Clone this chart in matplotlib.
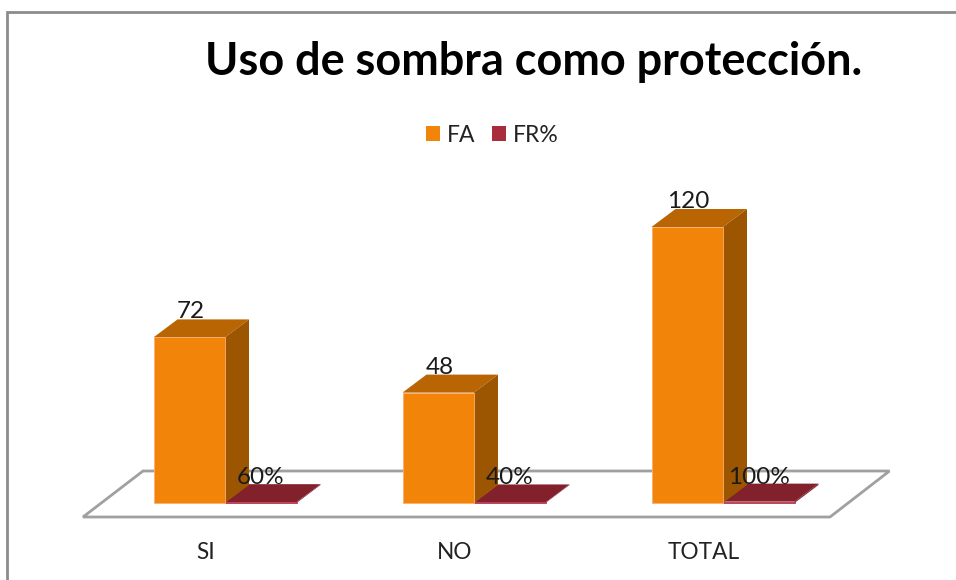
import matplotlib
matplotlib.use("Agg")
import matplotlib.pyplot as plt
from matplotlib.patches import Polygon

categories = ["SI", "NO", "TOTAL"]
fa_values = [72, 48, 120]
fr_values = [60, 40, 100]
fr_labels = ["60%", "40%", "100%"]

plt.rcParams['font.family'] = ['Lato', 'DejaVu Sans']

W, H = 956, 580
fig = plt.figure(figsize=(W / 100, H / 100), dpi=100, facecolor="white")
ax = fig.add_axes([0, 0, 1, 1])

STEP = 249.0   # px per category
UNIT = 2.30    # px per FA unit
X0, Y0 = 225.0, 503.0
ax.set_xlim((0 - X0) / STEP, (W - X0) / STEP)
ax.set_ylim((Y0 - H) / UNIT, Y0 / UNIT)
ax.axis("off")

def px(x, y):
    return ((x - X0) / STEP, (Y0 - y) / UNIT)

BW = 71.5 / STEP
DX, DY = 24 / STEP, 18 / UNIT

# outer frame
ax.add_line(plt.Line2D(*zip(px(6.5, 580), px(6.5, 11.5), px(956, 11.5)),
                       color="#8c8c8c", lw=2.0, zorder=1, solid_joinstyle="miter"))
# floor
ax.add_patch(Polygon([px(83, 517), px(830, 517), px(889.5, 471), px(143, 471)],
                     closed=True, fc="white", ec="#a0a0a0", lw=2.0, zorder=1))

def bar3d(x, h, front, top, side, edge, z):
    bars = ax.bar(x, h, BW, align="edge", color=front, zorder=z + 2,
                  edgecolor=edge, lw=0.6)
    ax.add_patch(Polygon([(x, h), (x + BW, h), (x + BW + DX, h + DY), (x + DX, h + DY)],
                         closed=True, fc=top, ec="none", zorder=z + 1))
    ax.add_patch(Polygon([(x + BW, 0), (x + BW + DX, DY), (x + BW + DX, h + DY), (x + BW, h)],
                         closed=True, fc=side, ec="none", zorder=z + 1))
    return bars

for i, (fa, fr) in enumerate(zip(fa_values, fr_values)):
    xa = i - BW
    bar3d(xa, fa, "#f2840a", "#b96504", "#9c5602", "#f8b070", 4)
    bar3d(i, fr / 100 * 0.6, "#a82c3c", "#82202c", "#82202c", "#b83a4e", 2)
    ax.text(xa + BW / 2 + 0.005, fa + DY + 0.4, str(fa), ha="center", va="baseline",
            fontsize=17.5, color="#1a1a1a", zorder=10)
    ax.text(i + 0.143, DY + 0.4, fr_labels[i], ha="center", va="baseline",
            fontsize=17.5, color="#1a1a1a", zorder=10)
    ax.text(i - 0.076, -21.5, categories[i], ha="center", va="center",
            fontsize=16.3, color="#222222", zorder=10)

ax.text((534 - X0) / STEP, (503 - 62) / UNIT, "Uso de sombra como protección.",
        ha="center", va="center", fontsize=32.4, fontweight="bold", color="black")

leg = ax.legend(handles=[plt.Rectangle((0, 0), 1, 1, fc="#f2840a"),
                         plt.Rectangle((0, 0), 1, 1, fc="#a82c3c")],
                labels=["FA", "FR%"], ncol=2, frameon=False, fontsize=16.5,
                loc="center", bbox_to_anchor=(492.5 / W, 1 - 135 / H),
                handlelength=0.62, handleheight=0.62, handletextpad=0.3,
                columnspacing=0.72, labelcolor="#222222")

fig.savefig("out.png", dpi=100, facecolor="white")
